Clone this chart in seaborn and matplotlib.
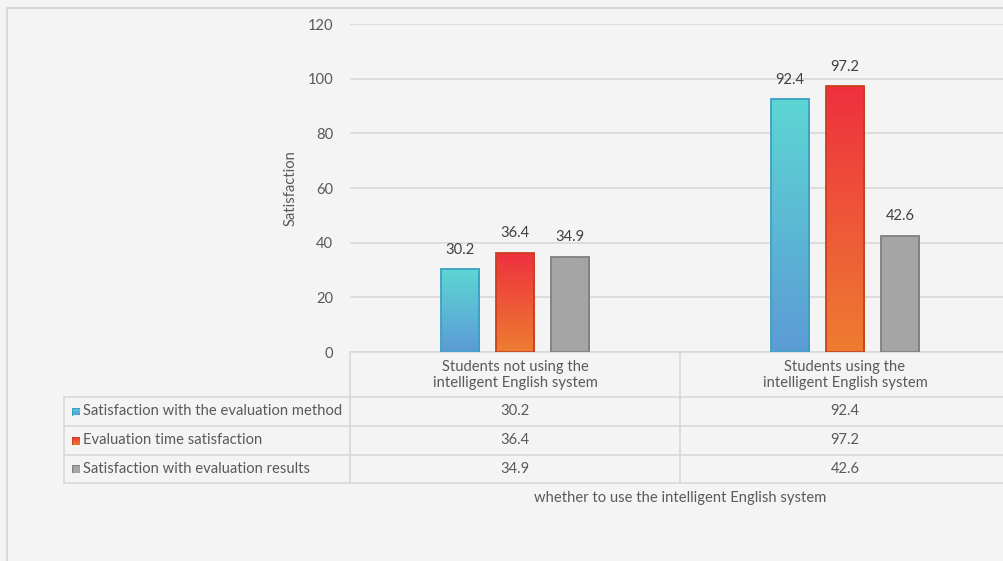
import numpy as np
import pandas as pd
import matplotlib
matplotlib.use("Agg")
import matplotlib.pyplot as plt
import matplotlib.transforms as mtransforms
from matplotlib.lines import Line2D
from matplotlib.patches import Rectangle
import seaborn as sns

groups = ["Students not using the\nintelligent English system",
          "Students using the\nintelligent English system"]
series = ["Satisfaction with the evaluation method",
          "Evaluation time satisfaction",
          "Satisfaction with evaluation results"]
method_vals = [30.2, 92.4]
time_vals = [36.4, 97.2]
result_vals = [34.9, 42.6]
yticks = [0, 20, 40, 60, 80, 100, 120]

# gradient colours (top, bottom) and edges
grad_top = ["#5dd6d3", "#ef303f", "#a5a5a5"]
grad_bot = ["#5b9bd5", "#ed7d31", "#a5a5a5"]
edges = ["#3a9fc4", "#c8401e", "#7f7f7f"]

df = pd.DataFrame({
    "group": groups * 3,
    "series": [s for s in series for _ in groups],
    "value": method_vals + time_vals + result_vals,
})

sns.set_theme(style="white")
plt.rcParams["font.family"] = ["Lato", "DejaVu Sans"]
BG = "#f4f4f4"
GRID = "#d9d9d9"
TXT = "#595959"
FS = 10.6
W, H = 1004, 561

fig = plt.figure(figsize=(W / 100, H / 100), dpi=100, facecolor=BG)
ax = fig.add_axes([350 / W, 1 - 352 / H, 660 / W, 328 / H])
ax.set_facecolor(BG)

sns.barplot(data=df, x="group", y="value", hue="series", hue_order=series,
            palette=grad_bot, width=0.5, gap=0.3, ax=ax, legend=False,
            saturation=1)

ax.set_xlim(-0.5, 1.5)
ax.set_ylim(0, 120)
ax.set_yticks(yticks)
ax.yaxis.grid(True, color=GRID, lw=1.2)
ax.set_axisbelow(True)
for s in ["left", "right", "top"]:
    ax.spines[s].set_visible(False)
ax.spines["bottom"].set_color(GRID)
ax.spines["bottom"].set_linewidth(1.2)
ax.tick_params(axis="y", length=0, labelsize=FS, labelcolor=TXT, pad=12)
ax.tick_params(axis="x", length=0, labelbottom=False)

# gradient fill for each bar
for i, cont in enumerate(ax.containers):
    grad = np.linspace(matplotlib.colors.to_rgb(grad_top[i]),
                       matplotlib.colors.to_rgb(grad_bot[i]), 256)[:, None, :]
    for p in cont.patches:
        x0, y0 = p.get_x(), p.get_y()
        im = ax.imshow(grad, extent=[x0, x0 + p.get_width(), y0, y0 + p.get_height()],
                       aspect="auto", origin="upper", zorder=2)
        im.set_clip_path(p)
        p.set_facecolor("none")
        p.set_edgecolor(edges[i])
        p.set_linewidth(1.3)
        p.set_zorder(3)
    ax.bar_label(cont, fmt="%.1f", padding=9, fontsize=FS, color="#404040")
ax.set_xlim(-0.5, 1.5)
ax.set_ylim(0, 120)

ax.set_ylabel("Satisfaction", fontsize=FS, color=TXT)
ax.yaxis.set_label_coords(-0.079, 0.5)
ax.set_xlabel("whether to use the intelligent English system", fontsize=FS, color=TXT)
ax.xaxis.set_label_coords(0.5, -0.425)

# data table under the axis
fig_px = mtransforms.Affine2D().scale(1 / W, -1 / H).translate(0, 1) + fig.transFigure
blend = mtransforms.blended_transform_factory(ax.transData, fig_px)
row_lines = [397, 426, 455, 483]
for y in row_lines:
    fig.add_artist(Line2D([64, W], [y, y], transform=fig_px, color=GRID, lw=1.2))
fig.add_artist(Line2D([64, 64], [397, 483], transform=fig_px, color=GRID, lw=1.2))
fig.add_artist(Line2D([350, 350], [353, 483], transform=fig_px, color=GRID, lw=1.2))
fig.add_artist(Line2D([0.5, 0.5], [353, 483], transform=blend, color=GRID, lw=1.2))

for j, g in enumerate(groups):
    fig.text(j, 375, g, transform=blend, ha="center", va="center",
             fontsize=FS, color=TXT, linespacing=1.25)

row_vals = [method_vals, time_vals, result_vals]
for i, name in enumerate(series):
    yc = (row_lines[i] + row_lines[i + 1]) / 2
    fig.text(83, yc, name, transform=fig_px, ha="left", va="center",
             fontsize=FS, color=TXT)
    for j, v in enumerate(row_vals[i]):
        fig.text(j, yc, f"{v:.1f}", transform=blend, ha="center", va="center",
                 fontsize=FS, color=TXT)
    sw = fig.add_axes([72 / W, 1 - (yc + 4) / H, 8 / W, 8 / H])
    grad = np.linspace(matplotlib.colors.to_rgb(grad_top[i]),
                       matplotlib.colors.to_rgb(grad_bot[i]), 32)[:, None, :]
    sw.imshow(grad, aspect="auto", interpolation="bilinear", extent=[0, 1, 0, 1])
    sw.add_patch(Rectangle((0, 0), 1, 1, fill=False, ec=edges[i], lw=0.8))
    sw.set_xlim(0, 1)
    sw.set_ylim(0, 1)
    sw.axis("off")

# chart area border
fig.add_artist(Line2D([7, 7], [8, H], transform=fig_px, color=GRID, lw=1.5))
fig.add_artist(Line2D([7, W], [8, 8], transform=fig_px, color=GRID, lw=1.5))

fig.savefig("out.png", dpi=100, facecolor=BG)
